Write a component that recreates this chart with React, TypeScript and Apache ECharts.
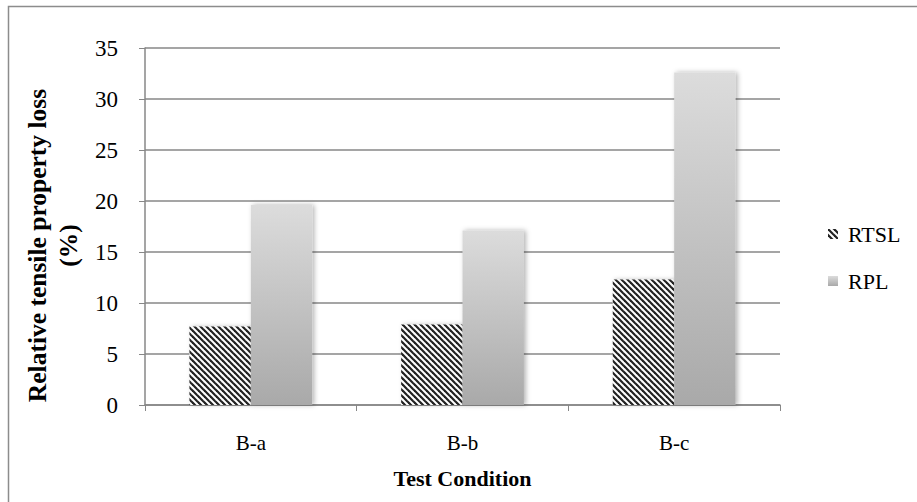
import React, { useEffect, useRef } from "react";
import * as echarts from "echarts";

const categories = ["B-a", "B-b", "B-c"];
const rtslValues = [7.7, 7.9, 12.3];
const rplValues = [19.6, 17.1, 32.6];
const yTicks = [0, 5, 10, 15, 20, 25, 30, 35];
const seriesNames = ["RTSL", "RPL"];

function makeHatch(): HTMLCanvasElement {
  const c = document.createElement("canvas");
  const s = 6;
  c.width = s;
  c.height = s;
  const ctx = c.getContext("2d")!;
  ctx.fillStyle = "#ffffff";
  ctx.fillRect(0, 0, s, s);
  ctx.strokeStyle = "#222222";
  ctx.lineWidth = 2.2;
  for (let k = -s; k <= s; k += s) {
    ctx.beginPath();
    ctx.moveTo(k - 1, -1);
    ctx.lineTo(k + s + 1, s + 1);
    ctx.stroke();
  }
  return c;
}

export default function App() {
  const ref = useRef<HTMLDivElement>(null);
  useEffect(() => {
    if (!ref.current) return;
    const chart = echarts.init(ref.current, null, { renderer: "svg" });
    const hatch = makeHatch();
    const font = "Liberation Serif";
    const grey = "#878787";
    chart.setOption({
      animation: false,
      backgroundColor: "#ffffff",
      textStyle: { fontFamily: font },
      graphic: [
        {
          type: "rect",
          shape: { x: 8.5, y: 6.5, width: 1000, height: 1000 },
          style: { fill: "none", stroke: "#8c8c8c", lineWidth: 1.5 },
          silent: true,
        },
      ],
      grid: { left: 145, right: 137, top: 48, bottom: 97 },
      legend: {
        orient: "vertical",
        left: 823,
        top: 218,
        itemGap: 25,
        itemWidth: 10,
        itemHeight: 10,
        icon: "rect",
        data: seriesNames,
        textStyle: { fontFamily: font, fontSize: 22, color: "#000", padding: [0, 0, 0, 5] },
      },
      xAxis: {
        type: "category",
        data: categories,
        name: "Test Condition",
        nameLocation: "middle",
        nameGap: 62,
        nameTextStyle: { fontFamily: font, fontSize: 22, fontWeight: "bold", color: "#000" },
        axisLine: { lineStyle: { color: grey, width: 1.5 } },
        axisTick: { show: true, length: 6, inside: false, lineStyle: { color: grey } },
        axisLabel: { fontFamily: font, fontSize: 21, color: "#000", margin: 27 },
      },
      yAxis: {
        type: "value",
        min: 0,
        max: 35,
        interval: 5,
        name: "Relative tensile property loss\n(%)",
        nameLocation: "middle",
        nameGap: 58,
        nameTextStyle: {
          fontFamily: font,
          fontSize: 25.5,
          fontWeight: "bold",
          color: "#000",
          lineHeight: 31,
          padding: [0, 38, 0, 0],
        },
        axisLine: { show: true, lineStyle: { color: grey, width: 1.5 } },
        axisTick: { show: true, length: 6, lineStyle: { color: grey } },
        splitLine: { lineStyle: { color: grey, width: 1.5 } },
        axisLabel: {
          fontFamily: font,
          fontSize: 23,
          color: "#000",
          margin: 27,
          formatter: (v: number) => (yTicks.includes(v) ? String(v) : ""),
        },
      },
      series: [
        {
          name: seriesNames[0],
          type: "bar",
          data: rtslValues,
          barGap: "0%",
          barCategoryGap: "42%",
          itemStyle: {
            color: { image: hatch, repeat: "repeat" },
            shadowColor: "rgba(0,0,0,0.25)",
            shadowBlur: 4,
            shadowOffsetX: 2,
          },
        },
        {
          name: seriesNames[1],
          type: "bar",
          data: rplValues,
          barGap: "0%",
          barCategoryGap: "42%",
          itemStyle: {
            color: new echarts.graphic.LinearGradient(0, 0, 0, 1, [
              { offset: 0, color: "#dcdcdc" },
              { offset: 1, color: "#a9a9a9" },
            ]),
            shadowColor: "rgba(0,0,0,0.3)",
            shadowBlur: 5,
            shadowOffsetX: 2,
          },
        },
      ],
    });
    return () => chart.dispose();
  }, []);
  return <div ref={ref} style={{ width: 917, height: 502, position: "absolute", left: 0, top: 0 }} />;
}
